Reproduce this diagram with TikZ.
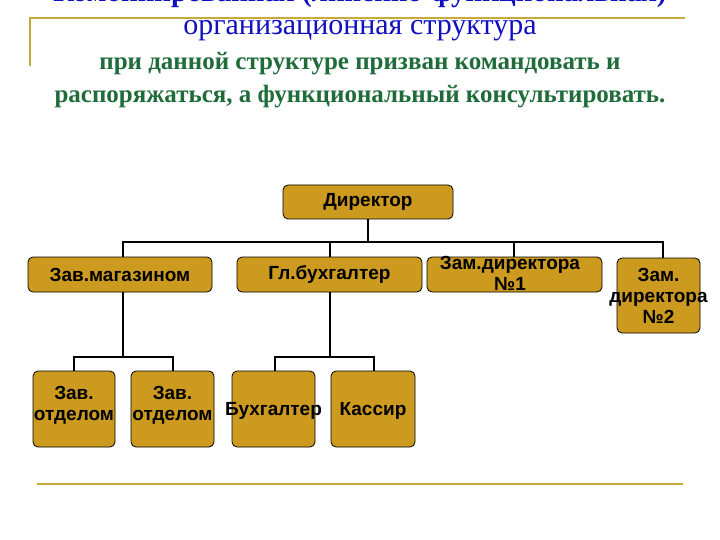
\documentclass[tikz,border=0pt]{standalone}
\usepackage{fontspec}
\setmainfont{Liberation Serif}
\newfontfamily\boxfont{Liberation Sans}
\begin{document}
\begin{tikzpicture}[x=1pt,y=-1pt,
  box/.style={draw=black,fill=boxgold,rounded corners=5pt,line width=0.8pt,inner sep=0pt},
  lbl/.style={font=\boxfont\bfseries\fontsize{19}{21}\selectfont,align=center,inner sep=0pt},
  conn/.style={line width=1.5pt},
  deco/.style={draw=lineGold,line width=2pt}]
\definecolor{boxgold}{HTML}{CC9A1E}
\definecolor{lineGold}{HTML}{C9A93A}
\definecolor{titleblue}{HTML}{1010C0}
\definecolor{subgreen}{HTML}{1F6B3A}
\useasboundingbox (0,0) rectangle (720,540);
\fill[white] (0,0) rectangle (720,540);
\draw[deco] (30,18) -- (685,18);
\draw[deco] (30,17) -- (30,66);
\draw[deco] (37,484) -- (683,484);
\node[text=titleblue,font=\bfseries\fontsize{29}{30}\selectfont] (t0) at (360,-6) {Комбинированная (линейно-функциональная)};
\node[text=titleblue,font=\fontsize{30}{31}\selectfont] (t1) at (360,31) {организационная структура};
\node[text=subgreen,font=\bfseries\fontsize{25}{26}\selectfont] (t2) at (360,64) {при данной структуре призван командовать и};
\node[text=subgreen,font=\bfseries\fontsize{25}{26}\selectfont] (t3) at (360,97) {распоряжаться, а функциональный консультировать.};
% connectors
\coordinate (bus) at (368,242);
\draw[conn] (368,219) -- (bus);
\draw[conn] (123,257) |- (bus) -| (663,258);
\draw[conn] (330,242) -- (330,257);
\draw[conn] (514,242) -- (514,257);
\draw[conn] (123,292) -- (123,357);
\draw[conn] (74,371) |- (123,357) -| (173,371);
\draw[conn] (330,292) -- (330,357);
\draw[conn] (275,371) |- (330,357) -| (374,371);
% boxes
\node[box,minimum width=170pt,minimum height=34pt] (dir) at (368,202) {};
\node[lbl] (dirt) at (368,202) {Директор};
\node[box,minimum width=184pt,minimum height=35pt] (zm) at (120,274.5) {};
\node[lbl] (zmt) at (120,274.5) {Зав.магазином};
\node[box,minimum width=185pt,minimum height=35pt] (gb) at (329.5,274.5) {};
\node[lbl] (gbt) at (329.5,274.5) {Гл.бухгалтер};
\node[box,minimum width=175pt,minimum height=35pt] (z1) at (514.5,274.5) {};
\node[lbl,anchor=north] (z1t) at (510,256) {Зам.директора\\№1};
\node[box,minimum width=83pt,minimum height=75pt] (z2) at (658.5,295.5) {};
\node[lbl] (z2t) at (658.5,295.5) {Зам.\\директора\\№2};
\node[box,minimum width=82pt,minimum height=76pt] (o1) at (74,409) {};
\node[box,minimum width=83pt,minimum height=76pt] (o2) at (172.5,409) {};
\node[lbl] (o1t) at (74,405) {Зав.\\отделом};
\node[lbl] (o2t) at (172.5,405) {Зав.\\отделом};
\node[box,minimum width=83pt,minimum height=76pt] (bu) at (273.5,409) {};
\node[box,minimum width=84pt,minimum height=76pt] (ka) at (373,409) {};
\node[lbl] (but) at (273.5,411) {Бухгалтер};
\node[lbl] (kat) at (373,411) {Кассир};
\end{tikzpicture}
\end{document}
